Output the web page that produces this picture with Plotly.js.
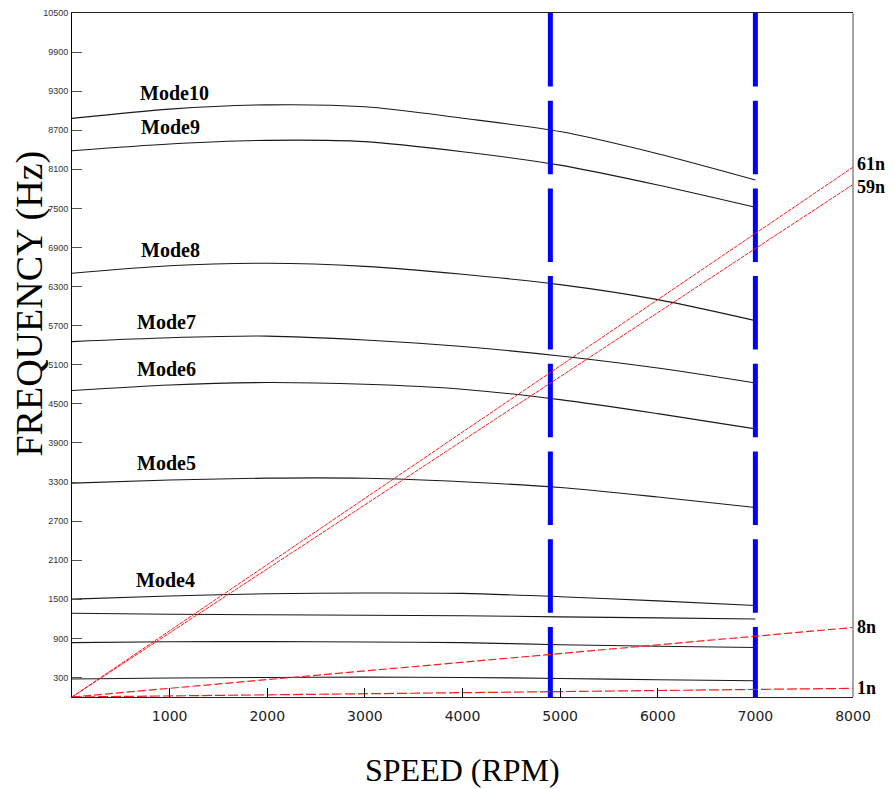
<!DOCTYPE html>
<html>
<head>
<meta charset="utf-8">
<script src="https://cdn.plot.ly/plotly-3.0.1.min.js"></script>
<style>
  html, body { margin: 0; padding: 0; background: #fff; }
  #chart { width: 894px; height: 789px; }
</style>
</head>
<body>
<div id="chart"></div>
<script>
// ---- data ----
const speed = [0, 1000, 2000, 3000, 4000, 5000, 6000, 7000];
const mode1  = [276, 291, 300, 305, 300, 285, 265, 250];
const mode2  = [835, 848, 850, 845, 835, 802, 780, 761];
const mode3  = [1285, 1270, 1262, 1255, 1247, 1230, 1215, 1197];
const mode4  = [1503, 1550, 1585, 1596, 1590, 1540, 1475, 1405];
const mode5  = [3283, 3330, 3360, 3358, 3305, 3215, 3070, 2909];
const mode6  = [4704, 4790, 4827, 4800, 4725, 4565, 4350, 4116];
const mode7  = [5456, 5515, 5540, 5480, 5380, 5235, 5050, 4820];
const mode8  = [6505, 6620, 6658, 6610, 6490, 6330, 6100, 5778];
const mode9  = [8386, 8490, 8545, 8525, 8370, 8165, 7860, 7518];
const mode10 = [8883, 9025, 9090, 9060, 8885, 8680, 8340, 7937];
const modeNames = ['Mode1','Mode2','Mode3','Mode4','Mode5','Mode6','Mode7','Mode8','Mode9','Mode10'];

const orderSpeed = [0, 8000];
const order1  = [0, 133];
const order8  = [0, 1067];
const order59 = [0, 7867];
const order61 = [0, 8133];
const orderNames = ['1n', '8n', '59n', '61n'];

const criticalSpeeds = [4900, 7000];
const freqRange = [10500, 0];

const xTicks = [1000, 2000, 3000, 4000, 5000, 6000, 7000, 8000];
const yTicks = [300, 900, 1500, 2100, 2700, 3300, 3900, 4500, 5100, 5700, 6300, 6900, 7500, 8100, 8700, 9300, 9900, 10500];

// ---- traces ----
const modes = [mode1, mode2, mode3, mode4, mode5, mode6, mode7, mode8, mode9, mode10];
const traces = [];
modes.forEach((m, i) => {
  traces.push({
    x: speed, y: m, name: modeNames[i], type: 'scatter', mode: 'lines',
    line: {color: '#1a1a1a', width: 1.1, shape: 'spline', smoothing: 0.8},
    hoverinfo: 'skip'
  });
});
criticalSpeeds.forEach(s => {
  traces.push({
    x: [s, s], y: freqRange, type: 'scatter', mode: 'lines',
    line: {color: '#0000ff', width: 5, dash: '73.5px,14.2px'},
    hoverinfo: 'skip'
  });
});
const orders = [order1, order8, order59, order61];
const orderDash = ['10px,3px', '8px,3px', '4px,1px', '4px,1px'];
const orderWidth = [1.2, 1.2, 1, 1];
orders.forEach((o, i) => {
  traces.push({
    x: orderSpeed, y: o, name: orderNames[i], type: 'scatter', mode: 'lines',
    line: {color: '#ff1a1a', width: orderWidth[i], dash: orderDash[i]},
    hoverinfo: 'skip'
  });
});

// ---- annotations ----
const serif = 'Liberation Serif, Times New Roman, serif';
const annotations = [];
const modeLabelAt = {
  'Mode4':  [955, 1800],
  'Mode5':  [965, 3595],
  'Mode6':  [965, 5037],
  'Mode7':  [965, 5758],
  'Mode8':  [1005, 6863],
  'Mode9':  [1005, 8750],
  'Mode10': [1045, 9271]
};
Object.keys(modeLabelAt).forEach(k => {
  annotations.push({
    x: modeLabelAt[k][0], y: modeLabelAt[k][1], xref: 'x', yref: 'y',
    text: '<b>' + k + '</b>', showarrow: false,
    font: {family: serif, size: 20, color: '#000'},
    xanchor: 'center', yanchor: 'middle'
  });
});
const orderLabelShift = [0, 0, -2, 3];
orders.forEach((o, i) => {
  annotations.push({
    x: orderSpeed[orderSpeed.length - 1], y: o[o.length - 1], xref: 'x', yref: 'y',
    text: '<b>' + orderNames[i] + '</b>', showarrow: false,
    font: {family: serif, size: 18, color: '#000'},
    xanchor: 'left', yanchor: 'middle', xshift: 2, yshift: orderLabelShift[i]
  });
});
annotations.push({
  x: -0.054, y: 0.575, xref: 'paper', yref: 'paper', text: 'FREQUENCY (Hz)',
  textangle: -90, showarrow: false,
  font: {family: serif, size: 38, color: '#000'},
  xanchor: 'center', yanchor: 'middle'
});
annotations.push({
  x: 0.5, y: -0.107, xref: 'paper', yref: 'paper', text: 'SPEED (RPM)',
  showarrow: false,
  font: {family: serif, size: 32, color: '#000'},
  xanchor: 'center', yanchor: 'middle'
});

const layout = {
  width: 894, height: 789,
  margin: {l: 72, r: 41, t: 13, b: 92},
  paper_bgcolor: '#fff', plot_bgcolor: '#fff',
  showlegend: false,
  xaxis: {
    range: [0, 8000], tickvals: xTicks, ticktext: xTicks.map(String),
    ticks: 'inside', ticklen: 9, tickcolor: '#000', tickwidth: 1,
    showline: true, linecolor: '#222', linewidth: 1, mirror: true,
    showgrid: false, zeroline: false,
    tickfont: {family: 'DejaVu Sans, sans-serif', size: 14, color: '#222'},
    ticklabelstandoff: 6
  },
  yaxis: {
    range: [0, 10500], tickvals: yTicks, ticktext: yTicks.map(String),
    ticks: 'inside', ticklen: 10, tickcolor: '#555', tickwidth: 1,
    showline: true, linecolor: '#000', linewidth: 1, mirror: false,
    showgrid: false, zeroline: false,
    tickfont: {family: 'Liberation Sans, Arial, sans-serif', size: 9, color: '#333'},
    ticklabelstandoff: 1
  },
  shapes: [{
    type: 'line', xref: 'paper', yref: 'paper', x0: 1, x1: 1, y0: 0, y1: 1,
    line: {color: '#888', width: 1.5}
  }],
  annotations: annotations
};

Plotly.newPlot('chart', traces, layout, {staticPlot: true, displayModeBar: false});
</script>
</body>
</html>
